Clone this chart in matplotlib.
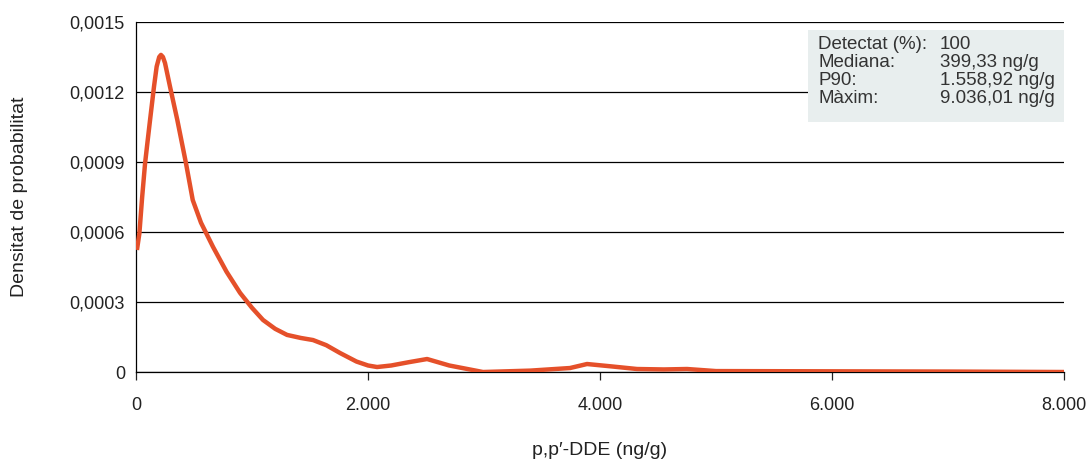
import matplotlib
matplotlib.use('Agg')
import matplotlib.pyplot as plt
from matplotlib.ticker import FuncFormatter

plt.rcParams['font.family'] = ['Liberation Sans', 'DejaVu Sans']

# density curve
conc = [8, 29, 53, 78, 100, 121, 155, 178, 200, 215, 232, 250, 293, 356, 431,
        489, 560, 664, 780, 897, 1000, 1095, 1200, 1302, 1420, 1526, 1640,
        1759, 1900, 2000, 2078, 2200, 2350, 2509, 2700, 2991, 3400, 3741, 3888,
        4100, 4319, 4550, 4750, 5000, 6000, 7000, 8000]
density = [0.000523, 0.000594, 0.00075, 0.000894, 0.00099, 0.00108, 0.001223,
           0.001309, 0.00135, 0.001359, 0.00135, 0.001324, 0.001223, 0.00108,
           0.000894, 0.000737, 0.00064, 0.000536, 0.00043, 0.000339, 0.000275,
           0.000223, 0.000185, 0.000159, 0.000146, 0.000137, 0.000115,
           0.0000814, 0.000045, 0.000028, 0.0000214, 0.000028, 0.000042,
           0.0000557, 0.000028, 0.0, 0.000006, 0.0000171, 0.0000343, 0.000024,
           0.0000129, 0.000011, 0.0000129, 0.000004, 0.000003, 0.000002, 0.0]

yticks = [0, 0.0003, 0.0006, 0.0009, 0.0012, 0.0015]
xticks = [0, 2000, 4000, 6000, 8000]
stats_labels = ['Detectat (%):', 'Mediana:', 'P90:', 'Màxim:']
stats_values = ['100', '399,33 ng/g', '1.558,92 ng/g', '9.036,01 ng/g']

fig = plt.figure(figsize=(10.89, 4.63), dpi=100)
ax = fig.add_axes([0.1249, 0.1965, 0.8522, 0.756])

for y in yticks:
    ax.axhline(y, color='black', lw=0.9, zorder=1)
ax.plot(conc, density, color='#e5502a', lw=3.2, solid_capstyle='butt',
        solid_joinstyle='round', zorder=3)

ax.set_xlim(0, 8000)
ax.set_ylim(0, 0.0015)
ax.set_xticks(xticks)
ax.set_yticks(yticks)
ax.xaxis.set_major_formatter(FuncFormatter(lambda v, p: '0' if v == 0 else f'{int(v):,}'.replace(',', '.')))
ax.yaxis.set_major_formatter(FuncFormatter(lambda v, p: '0' if v == 0 else f'{v:.4f}'.replace('.', ',')))
for s in ['top', 'right']:
    ax.spines[s].set_visible(False)
ax.spines['left'].set_linewidth(0.9)
ax.spines['bottom'].set_linewidth(0.9)
ax.tick_params(axis='y', length=0, pad=8, labelsize=13, colors='#222222')
ax.tick_params(axis='x', length=6, width=0.9, pad=12, labelsize=13, colors='#222222')

ax.set_xlabel('p,p\u2032-DDE (ng/g)', fontsize=14, labelpad=20, color='#222222')
ax.set_ylabel('Densitat de probabilitat', fontsize=14, labelpad=30, color='#222222')

# stats box
ax.add_patch(plt.Rectangle((0.724, 0.714), 0.276, 0.263, transform=ax.transAxes,
                           facecolor='#e8eeee', edgecolor='none', zorder=4))
for i, (lab, val) in enumerate(zip(stats_labels, stats_values)):
    yy = 0.935 - i * 0.051
    ax.text(0.735, yy, lab, transform=ax.transAxes, fontsize=13.5, va='center',
            color='#333333', zorder=5)
    ax.text(0.866, yy, val, transform=ax.transAxes, fontsize=13.5, va='center',
            color='#333333', zorder=5)

fig.savefig('out.png', dpi=100)
